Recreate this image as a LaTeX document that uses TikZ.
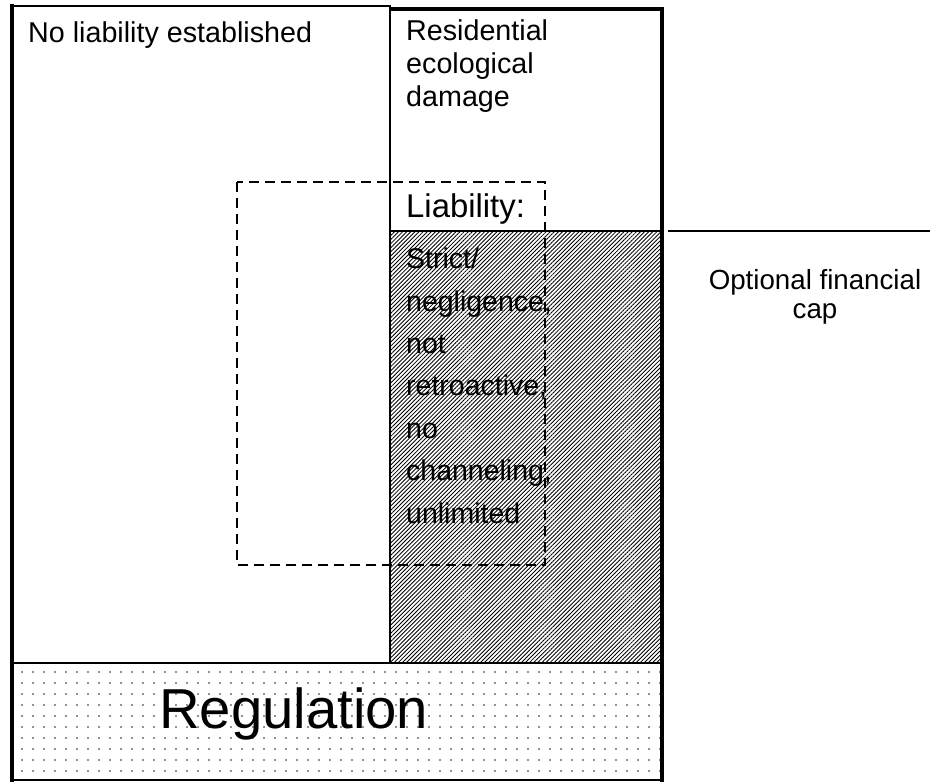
\documentclass[tikz,border=0pt]{standalone}
\usepackage{fontspec}
\setmainfont{Liberation Sans}
\usetikzlibrary{patterns.meta}
\begin{document}
\begin{tikzpicture}[x=1bp,y=-1bp,
  thinframe/.style={line width=2bp,line cap=rect},
  thickframe/.style={line width=4.5bp,line cap=rect},
  hatchfill/.style={pattern={Lines[angle=45,distance=2.9bp,line width=0.85bp]},pattern color=black},
  dotfill/.style={pattern={Dots[distance=11bp,radius=0.9bp]},pattern color=black!85},
  dashbox/.style={line width=1.3bp,dash pattern=on 10bp off 6bp},
  body/.style={font=\fontsize{28.8}{33}\selectfont,inner sep=0pt},
  label/.style={body,anchor=base west}]
\useasboundingbox (0,0) rectangle (930,782);

% key corners
\coordinate (tl) at (12,6);
\coordinate (div) at (390,663);
\coordinate (rtop) at (390,9);
\coordinate (rmid) at (662,231);
\coordinate (hatchtl) at (390,231);
\coordinate (hatchbr) at (662,663);
\coordinate (regtl) at (12,663);
\coordinate (regbr) at (662,780);
\coordinate (captl) at (668,231);
\coordinate (capr) at (930,231);

% shaded areas
\fill[white] (hatchtl) rectangle (hatchbr);
\fill[hatchfill] (hatchtl) rectangle (hatchbr);
\fill[white] (regtl) rectangle (regbr);
\fill[dotfill] (regtl) rectangle (regbr);

% box outlines
\draw[thinframe] (tl) rectangle (div);
\draw[thinframe] (rtop) rectangle (rmid);
\draw[thinframe] (hatchtl) rectangle (hatchbr);
\draw[thinframe] (regtl) rectangle (regbr);
\draw[thickframe] (12,6) -- (12,780);
\draw[line width=3.5bp] (390,9) -- (662,9);
\draw[thickframe] (662,9) -- (662,780);

% dashed overlay
\coordinate (dtl) at (237,182);
\coordinate (dbr) at (545,565);
\draw[dashbox] (dtl) rectangle (dbr);

% cap marker line
\draw[line width=1.5bp] (captl) -- (capr);

% texts (multi-line nodes are placed by the baseline of their last line)
\node[label] (noliab) at (28,43) {No liability established};
\node[body,anchor=base west,align=left] (resid) at (406,106)
  {Residential\\ecological\\damage};
\node[label,font=\fontsize{33}{33}\selectfont] (liab) at (406,217) {Liability:};
\node[anchor=base west,align=left,inner sep=0pt,font=\fontsize{28.6}{42.5}\selectfont] (terms) at (406,523)
  {Strict/\\negligence,\\not\\retroactive,\\no\\channeling,\\unlimited};
\node[anchor=base,align=center,inner sep=0pt,font=\fontsize{27.8}{29}\selectfont] (cap) at (815,318)
  {Optional financial\\cap};
\node[label,font=\fontsize{56.5}{60}\selectfont] (reg) at (159,728) {Regulation};
\end{tikzpicture}
\end{document}
